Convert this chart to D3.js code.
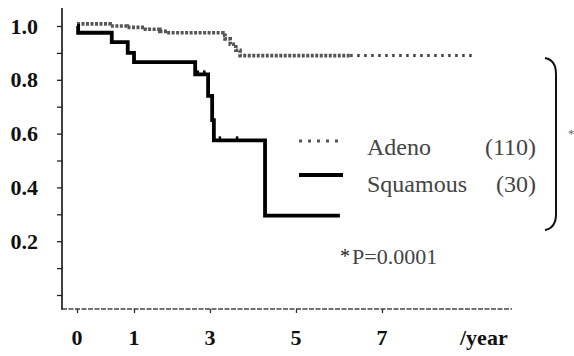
<!DOCTYPE html>
<html><head><meta charset="utf-8">
<script src="https://cdn.jsdelivr.net/npm/d3@7"></script>
</head><body style="margin:0">
<svg id="c" width="574" height="356" style="display:block;background:#fff"></svg>
<script>
// ---- data (years, survival) ----
const squamousTimes = [0, 0.02, 0.61, 0.89, 1.0, 2.61, 2.95, 3.05, 3.09, 4.28];
const squamousSurv  = [1.0, 0.975, 0.94, 0.90, 0.866, 0.82, 0.74, 0.65, 0.575, 0.295];
const squamousEnd = 6.02;
const squamousCensorTimes = [2.68, 2.85, 3.23, 3.63];
const squamousCensorSurv  = [0.82, 0.82, 0.575, 0.575];

const adenoTimes = [0, 0.58, 0.88, 1.3, 1.68, 1.87, 3.3, 3.35, 3.47, 3.6, 3.7];
const adenoSurv  = [1.008, 1.0, 0.995, 0.988, 0.98, 0.975, 0.965, 0.952, 0.932, 0.91, 0.89];
const adenoDenseEnd = 6.26;
const adenoEnd = 9.09;

const xTickValues = [0, 1, 3, 5, 7];
const xTickLabels = ["0", "1", "3", "5", "7"];
const yTickValues = [0, 0.1, 0.2, 0.3, 0.4, 0.5, 0.6, 0.7, 0.8, 0.9, 1.0];
const yLabelValues = [0.2, 0.4, 0.6, 0.8, 1.0];
const yLabelTexts = ["0.2", "0.4", "0.6", "0.8", "1.0"];

const legendNames = ["Adeno", "Squamous"];
const legendCounts = ["(110)", "(30)"];
const pText = "P=0.0001";

// ---- scales ----
const svg = d3.select("#c");
const x = d3.scaleLinear().domain([0, 1, 3, 7]).range([77, 134, 210, 382]);
const y = d3.scaleLinear().domain([0, 1]).range([295, 26]);
const FONT = '"Liberation Serif"';

function txt(sel) {
  return sel.style("font-family", FONT).attr("font-family", "Liberation Serif");
}

// ---- y axis ----
const yAxis = d3.axisLeft(y).tickValues(yTickValues).tickSize(5).tickFormat("");
const gy = svg.append("g").attr("transform", "translate(62,0)").call(yAxis);
gy.select(".domain").remove();
gy.selectAll(".tick line").attr("stroke", "#222").attr("stroke-width", 1.3);
svg.append("line").attr("x1", 62).attr("x2", 62).attr("y1", 8).attr("y2", 310)
  .attr("stroke", "#111").attr("stroke-width", 1.6);
yLabelValues.forEach((v, i) => {
  txt(svg.append("text")).attr("x", 38).attr("y", y(v) + 7.5)
    .attr("text-anchor", "end")
    .style("font-weight", "bold").style("font-size", "22px")
    .attr("fill", "#111").text(yLabelTexts[i]);
});

// ---- x axis ----
svg.append("line").attr("x1", 62).attr("x2", 512).attr("y1", 309).attr("y2", 309)
  .attr("stroke", "#444").attr("stroke-width", 1.6).attr("stroke-dasharray", "5,1.5");
const xAxis = d3.axisBottom(x).tickValues(xTickValues).tickSize(4).tickFormat("");
const gx = svg.append("g").attr("transform", "translate(0,309)").call(xAxis);
gx.select(".domain").remove();
gx.selectAll(".tick line").attr("stroke", "#333").attr("stroke-width", 1.3);
xTickValues.forEach((v, i) => {
  txt(svg.append("text")).attr("x", x(v)).attr("y", 345).attr("text-anchor", "middle")
    .style("font-weight", "bold").style("font-size", "22px")
    .attr("fill", "#111").text(xTickLabels[i]);
});
txt(svg.append("text")).attr("x", 460).attr("y", 345)
  .style("font-weight", "bold").style("font-size", "22px")
  .attr("fill", "#111").text("/year");

// ---- curves ----
const line = d3.line().x(d => x(d[0])).y(d => y(d[1])).curve(d3.curveStepAfter);

const adenoPts = adenoTimes.map((t, i) => [t, adenoSurv[i]]);
const adenoLast = adenoSurv[adenoSurv.length - 1];
svg.append("path").datum(adenoPts.concat([[adenoDenseEnd, adenoLast]]))
  .attr("d", line).attr("fill", "none")
  .attr("stroke", "#555").attr("stroke-width", 3.6).attr("stroke-dasharray", "3,1.5");
svg.append("path").datum([[adenoDenseEnd, adenoLast], [adenoEnd, adenoLast]])
  .attr("d", line).attr("fill", "none")
  .attr("stroke", "#444").attr("stroke-width", 3).attr("stroke-dasharray", "2.5,4.5");

const squPts = squamousTimes.map((t, i) => [t, squamousSurv[i]]);
svg.append("path").datum(squPts.concat([[squamousEnd, squamousSurv[squamousSurv.length - 1]]]))
  .attr("d", line).attr("fill", "none")
  .attr("stroke", "#000").attr("stroke-width", 3.8);
svg.append("g").selectAll("line").data(squamousCensorTimes).join("line")
  .attr("x1", d => x(d)).attr("x2", d => x(d))
  .attr("y1", (d, i) => y(squamousCensorSurv[i]) - 4)
  .attr("y2", (d, i) => y(squamousCensorSurv[i]) + 1)
  .attr("stroke", "#000").attr("stroke-width", 2.5);

// ---- legend ----
svg.append("line").attr("x1", 299).attr("x2", 343).attr("y1", 141).attr("y2", 141)
  .attr("stroke", "#555").attr("stroke-width", 3).attr("stroke-dasharray", "3,6");
svg.append("line").attr("x1", 299).attr("x2", 343).attr("y1", 175).attr("y2", 175)
  .attr("stroke", "#000").attr("stroke-width", 3.8);
legendNames.forEach((n, i) => {
  txt(svg.append("text")).attr("x", 367).attr("y", 155 + i * 37)
    .style("font-size", "24px").attr("fill", "#444").text(n);
  txt(svg.append("text")).attr("x", 536).attr("y", 155 + i * 37).attr("text-anchor", "end")
    .style("font-size", "24px").attr("fill", "#444").text(legendCounts[i]);
});

// bracket
svg.append("path")
  .attr("d", "M545,58 Q556,60 556,74 L556,214 Q556,228 545,230")
  .attr("fill", "none").attr("stroke", "#111").attr("stroke-width", 2);
txt(svg.append("text")).attr("x", 568).attr("y", 138)
  .style("font-size", "13px").attr("fill", "#666").text("*");

// p-value
txt(svg.append("text")).attr("x", 340).attr("y", 263)
  .style("font-size", "20px").attr("fill", "#222").text("*");
txt(svg.append("text")).attr("x", 352).attr("y", 264)
  .style("font-size", "22px").attr("fill", "#444").text(pText);
</script>
</body></html>
